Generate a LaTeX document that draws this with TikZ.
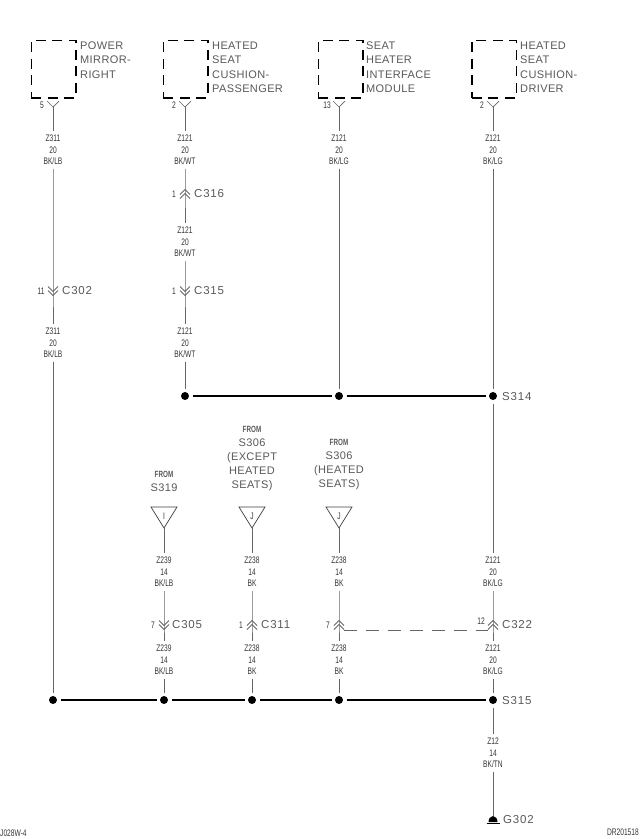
\documentclass[tikz,border=0pt]{standalone}
\usepackage{fontspec}
\usepackage{tikz}
\usetikzlibrary{calc}

\newfontfamily\wirefont[FakeStretch = 0.7]{Liberation Sans}
\newfontfamily\namefont[LetterSpace = 3.5]{Liberation Sans}
\newfontfamily\connfont[LetterSpace = 7]{Liberation Sans}

\definecolor{wire_gray}{gray}{0.4}
\definecolor{text_gray}{gray}{0.35}

\tikzset{
    wire/.style = {wire_gray, line width = 0.9pt},
    bus/.style = {black, line width = 1.2pt},
    cross_wire/.style = {wire_gray, line width = 0.8pt, dash pattern = on 13pt off 9pt},
    wire_label/.style = {align = center, inner xsep = 1pt, inner ysep = 3.5pt, text = black!80,
        font = \wirefont\fontsize{9.5}{11.5}\selectfont},
    pin_label/.style = {inner sep = 0pt, text = black!80, font = \wirefont\fontsize{9.5}{10}\selectfont},
    name_label/.style = {align = left, anchor = north west, inner sep = 0pt, text = text_gray,
        font = \namefont\fontsize{11}{14.3}\selectfont},
    from_label/.style = {align = center, anchor = south, inner sep = 0pt, text = text_gray,
        font = \namefont\fontsize{11}{14}\selectfont},
    conn_label/.style = {anchor = west, inner sep = 0pt, text = text_gray,
        font = \connfont\fontsize{11.5}{14}\selectfont},
    dash_box/.style = {draw = black, line width = 1.5pt, dash pattern = on 10pt off 6.5pt,
        minimum width = 44.5pt, minimum height = 57.5pt, inner sep = 0pt},
    splice/.style = {circle, fill = black, minimum size = 8pt, inner sep = 0pt, outer sep = 3.5pt},
    pin_fork/.pic = {
        \draw[wire_gray, line width = 0.7pt] (-6, -6) -- (0, 0) -- (6, -6);
    },
    chevron_up/.pic = {
        \draw[wire_gray, line width = 0.8pt] (-5, 0.5) -- (0, -4.5) -- (5, 0.5);
        \draw[wire_gray, line width = 0.8pt] (-5, 4.5) -- (0, -0.5) -- (5, 4.5);
    },
    chevron_down/.pic = {
        \draw[wire_gray, line width = 0.8pt] (-5, -0.5) -- (0, 4.5) -- (5, -0.5);
        \draw[wire_gray, line width = 0.8pt] (-5, -4.5) -- (0, 0.5) -- (5, -4.5);
    },
    feed_tri/.pic = {
        \draw[black!75, line width = 0.7pt] (-13, -21) -- (13, -21) -- (0, 0) -- cycle;
    },
    ground_mark/.pic = {
        \fill[black] (-4.5, 6) arc[start angle = 180, end angle = 360, x radius = 4.5, y radius = 6] -- cycle;
        \draw[black, line width = 1pt] (-6.5, 7) -- (6.5, 7);
    },
}

\begin{document}
\begin{tikzpicture}[x = 1pt, y = -1pt]
    \useasboundingbox (0, 0) rectangle (640, 839);

    % top components
    \node[dash_box] (box_mirror) at (53.5, 69) {};
    \node[dash_box] (box_pass) at (185.5, 69) {};
    \node[dash_box] (box_module) at (340.5, 69) {};
    \node[dash_box] (box_driver) at (494, 69) {};

    \node[name_label] (name_mirror) at (80, 41.8) {POWER\\MIRROR-\\RIGHT};
    \node[name_label] (name_pass) at (212, 41.8) {HEATED\\SEAT\\CUSHION-\\PASSENGER};
    \node[name_label] (name_module) at (366, 41.8) {SEAT\\HEATER\\INTERFACE\\MODULE};
    \node[name_label] (name_driver) at (520, 41.8) {HEATED\\SEAT\\CUSHION-\\DRIVER};

    \coordinate (pin_mirror) at (53, 107);
    \coordinate (pin_pass) at (185, 107);
    \coordinate (pin_module) at (339, 107);
    \coordinate (pin_driver) at (493, 107);

    \pic at (pin_mirror) {pin_fork};
    \pic at (pin_pass) {pin_fork};
    \pic at (pin_module) {pin_fork};
    \pic at (pin_driver) {pin_fork};

    \node[pin_label] (num_mirror) at (42, 105) {5};
    \node[pin_label] (num_pass) at (174, 105) {2};
    \node[pin_label] (num_module) at (327, 105) {13};
    \node[pin_label] (num_driver) at (482, 105) {2};

    % wire labels
    \node[wire_label] (z311_a) at (53, 150) {Z311\\20\\BK/LB};
    \node[wire_label] (z311_b) at (53, 343) {Z311\\20\\BK/LB};
    \node[wire_label] (z121_a) at (185, 150) {Z121\\20\\BK/WT};
    \node[wire_label] (z121_b) at (185, 242) {Z121\\20\\BK/WT};
    \node[wire_label] (z121_c) at (185, 343) {Z121\\20\\BK/WT};
    \node[wire_label] (z121_d) at (339, 150) {Z121\\20\\BK/LG};
    \node[wire_label] (z121_e) at (493, 150) {Z121\\20\\BK/LG};
    \node[wire_label] (z121_f) at (493, 572) {Z121\\20\\BK/LG};
    \node[wire_label] (z121_g) at (493, 660) {Z121\\20\\BK/LG};
    \node[wire_label] (z239_a) at (164, 572) {Z239\\14\\BK/LB};
    \node[wire_label] (z239_b) at (164, 660) {Z239\\14\\BK/LB};
    \node[wire_label] (z238_a) at (252, 572) {Z238\\14\\BK};
    \node[wire_label] (z238_b) at (252, 660) {Z238\\14\\BK};
    \node[wire_label] (z238_c) at (339, 572) {Z238\\14\\BK};
    \node[wire_label] (z238_d) at (339, 660) {Z238\\14\\BK};
    \node[wire_label] (z12_a) at (493, 753) {Z12\\14\\BK/TN};

    % inline connectors
    \coordinate (conn_c302) at (53, 291);
    \coordinate (conn_c316) at (185, 194);
    \coordinate (conn_c315) at (185, 291);
    \coordinate (conn_c305) at (164, 625);
    \coordinate (conn_c311) at (252, 625);
    \coordinate (conn_seven) at (339, 625);
    \coordinate (conn_c322) at (493, 625);

    \pic at (conn_c302) {chevron_down};
    \pic at (conn_c316) {chevron_up};
    \pic at (conn_c315) {chevron_down};
    \pic at (conn_c305) {chevron_down};
    \pic at (conn_c311) {chevron_up};
    \pic at (conn_seven) {chevron_up};
    \pic at (conn_c322) {chevron_up};

    \node[pin_label] (num_c302) at (41, 291) {11};
    \node[pin_label] (num_c316) at (174, 194) {1};
    \node[pin_label] (num_c315) at (174, 291) {1};
    \node[pin_label] (num_c305) at (153, 625) {7};
    \node[pin_label] (num_c311) at (241, 625) {1};
    \node[pin_label] (num_seven) at (328, 625) {7};
    \node[pin_label] (num_c322) at (481, 621) {12};

    \node[conn_label] (name_c302) at (62, 291) {C302};
    \node[conn_label] (name_c316) at (194, 194) {C316};
    \node[conn_label] (name_c315) at (194, 291) {C315};
    \node[conn_label] (name_c305) at (172, 625) {C305};
    \node[conn_label] (name_c311) at (261, 625) {C311};
    \node[conn_label] (name_c322) at (502, 625) {C322};

    % splices
    \node[splice] (dot_pass) at (185, 396) {};
    \node[splice] (dot_module) at (339, 396) {};
    \node[splice] (dot_s314) at (493, 396) {};
    \node[splice] (dot_mirror) at (53, 700) {};
    \node[splice] (dot_c305) at (164, 700) {};
    \node[splice] (dot_c311) at (252, 700) {};
    \node[splice] (dot_seven) at (339, 700) {};
    \node[splice] (dot_s315) at (493, 700) {};

    \node[conn_label] (name_s314) at (502, 397) {S314};
    \node[conn_label] (name_s315) at (502, 701) {S315};

    % feeds
    \coordinate (tip_s319) at (164, 528);
    \coordinate (tip_except) at (252, 528);
    \coordinate (tip_heated) at (339, 528);

    \pic at (tip_s319) {feed_tri};
    \pic at (tip_except) {feed_tri};
    \pic at (tip_heated) {feed_tri};

    \node[pin_label] (letter_s319) at (164, 516) {I};
    \node[pin_label] (letter_except) at (252, 516) {J};
    \node[pin_label] (letter_heated) at (339, 516) {J};

    \node[from_label] (from_s319) at (164, 492) {{\wirefont\fontsize{9}{12.5}\selectfont\textbf{FROM}}\\S319};
    \node[from_label] (from_except) at (252, 491) {{\wirefont\fontsize{9}{12.5}\selectfont\textbf{FROM}}\\S306\\(EXCEPT\\HEATED\\SEATS)};
    \node[from_label] (from_heated) at (339, 490) {{\wirefont\fontsize{9}{12.5}\selectfont\textbf{FROM}}\\S306\\(HEATED\\SEATS)};

    % ground
    \coordinate (gnd_g302) at (493, 816);
    \pic at (gnd_g302) {ground_mark};
    \node[conn_label] (name_g302) at (503, 820) {G302};

    % wires
    \draw[wire] (pin_mirror) -- (z311_a) -- (conn_c302) -- (z311_b) -- (dot_mirror);
    \draw[wire] (pin_pass) -- (z121_a) -- (conn_c316) -- (z121_b) -- (conn_c315) -- (z121_c) -- (dot_pass);
    \draw[wire] (pin_module) -- (z121_d) -- (dot_module);
    \draw[wire] (pin_driver) -- (z121_e) -- (dot_s314);
    \draw[wire] (dot_s314) -- (z121_f) -- (conn_c322) -- (z121_g) -- (dot_s315);
    \draw[wire] (tip_s319) -- (z239_a) -- (conn_c305) -- (z239_b) -- (dot_c305);
    \draw[wire] (tip_except) -- (z238_a) -- (conn_c311) -- (z238_b) -- (dot_c311);
    \draw[wire] (tip_heated) -- (z238_c) -- (conn_seven) -- (z238_d) -- (dot_seven);
    \draw[wire] (dot_s315) -- (z12_a) -- (gnd_g302);

    \draw[cross_wire] ($(conn_seven) + (5, 5)$) -- ($(conn_c322) + (-5, 5)$);

    \draw[bus] (dot_pass) -- (dot_module);
    \draw[bus] (dot_module) -- (dot_s314);
    \draw[bus] (dot_mirror) -- (dot_c305);
    \draw[bus] (dot_c305) -- (dot_c311);
    \draw[bus] (dot_c311) -- (dot_seven);
    \draw[bus] (dot_seven) -- (dot_s315);

    % drawing numbers
    \node[pin_label, anchor = west] (code_left) at (0, 833) {J028W-4};
    \node[pin_label, anchor = east] (code_right) at (639, 832) {DR201518};
\end{tikzpicture}
\end{document}
